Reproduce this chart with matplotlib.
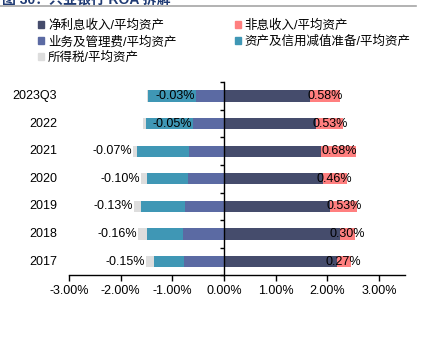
import matplotlib
matplotlib.use("Agg")
import matplotlib.pyplot as plt
import matplotlib.transforms as mtransforms
from matplotlib.patches import Patch
import numpy as np

plt.rcParams['font.family'] = ['Liberation Sans', 'Noto Sans CJK SC', 'DejaVu Sans']

categories = ['2023Q3', '2022', '2021', '2020', '2019', '2018', '2017']
net_interest = [1.67, 1.78, 1.88, 1.91, 2.05, 2.24, 2.18]      # 净利息收入/平均资产
non_interest = [0.58, 0.53, 0.68, 0.46, 0.53, 0.30, 0.27]      # 非息收入/平均资产
opex = [-0.55, -0.60, -0.68, -0.70, -0.76, -0.80, -0.77]       # 业务及管理费/平均资产
impairment = [-0.915, -0.915, -1.01, -0.80, -0.85, -0.70, -0.59]  # 资产及信用减值准备/平均资产
tax = [-0.03, -0.05, -0.07, -0.10, -0.13, -0.16, -0.15]        # 所得税/平均资产
tax_label_inside = [True, True, False, False, False, False, False]

series_names = ['净利息收入/平均资产', '非息收入/平均资产', '业务及管理费/平均资产',
                '资产及信用减值准备/平均资产', '所得税/平均资产']
colors = ['#454C6C', '#FF7F7F', '#5B6AA3', '#3F97B5', '#DDDDDD']
x_ticks = [-3, -2, -1, 0, 1, 2, 3]

fig = plt.figure(figsize=(4.21, 3.37), dpi=100)
ax = fig.add_axes([69/421, 1-275.3/337, 336/421, (275.3-82.2)/337])

y = np.arange(len(categories))
h = 0.41
ni = np.array(net_interest); nn = np.array(non_interest)
op = np.array(opex); im = np.array(impairment); tx = np.array(tax)

ax.barh(y, ni, height=h, color=colors[0])
ax.barh(y, nn, left=ni, height=h, color=colors[1])
ax.barh(y, op, height=h, color=colors[2])
ax.barh(y, im, left=op, height=h, color=colors[3])
ax.barh(y, tx, left=op+im, height=h, color=colors[4])

# labels
for i in range(len(categories)):
    ax.text(ni[i] + nn[i]/2, y[i], f'{non_interest[i]:.2f}%', ha='center', va='center',
            fontsize=9, color='black')
    if tax_label_inside[i]:
        ax.text(op[i] + im[i]/2 + 0.06, y[i], f'{tax[i]:.2f}%', ha='center', va='center',
                fontsize=9, color='black')
    else:
        ax.text(op[i] + im[i] + tx[i] - 0.02, y[i], f'{tax[i]:.2f}%', ha='right', va='center',
                fontsize=9, color='black')

ax.set_xlim(-3, 3.5)
ax.set_ylim(len(categories)-0.5, -0.5)
ax.set_xticks(x_ticks)
ax.set_xticklabels([f'{v:.2f}%' for v in x_ticks], fontsize=9)
ax.tick_params(axis='x', length=4, width=1, direction='out', pad=3)

for s in ['top', 'right']:
    ax.spines[s].set_visible(False)
ax.spines['left'].set_position(('data', 0))
ax.spines['left'].set_linewidth(1)
ax.spines['bottom'].set_linewidth(1)
ax.set_yticks(np.arange(len(categories)+1) - 0.5)
ax.set_yticklabels([])
ax.tick_params(axis='y', length=3, width=1, direction='out')

trans = mtransforms.blended_transform_factory(ax.transAxes, ax.transData)
for i, c in enumerate(categories):
    ax.text(-12/336, y[i], c, transform=trans, ha='right', va='center', fontsize=9)

handles = [Patch(color=colors[0]), Patch(color=colors[2]), Patch(color=colors[4]),
           Patch(color=colors[1]), Patch(color=colors[3])]
labels = [series_names[0], series_names[2], series_names[4], series_names[1], series_names[3]]
fig.legend(handles, labels, ncol=2, loc='upper left', bbox_to_anchor=(38/421, 1-20/337),
           frameon=False, fontsize=9, handlelength=0.5, handleheight=0.5, handletextpad=0.3,
           labelspacing=0.3, columnspacing=4.65, borderpad=0, borderaxespad=0)

# clipped header at top
fig.text(2/421, 1.0, '图 30：兴业银行 ROA 拆解', color='#1F3A73', fontsize=10,
         fontweight='bold', ha='left', va='center')
fig.add_artist(plt.Line2D([0, 416/421], [1-6/337, 1-6/337], color='#A6A6A6', lw=1.2,
                          transform=fig.transFigure))

fig.savefig('out.png', dpi=100)
